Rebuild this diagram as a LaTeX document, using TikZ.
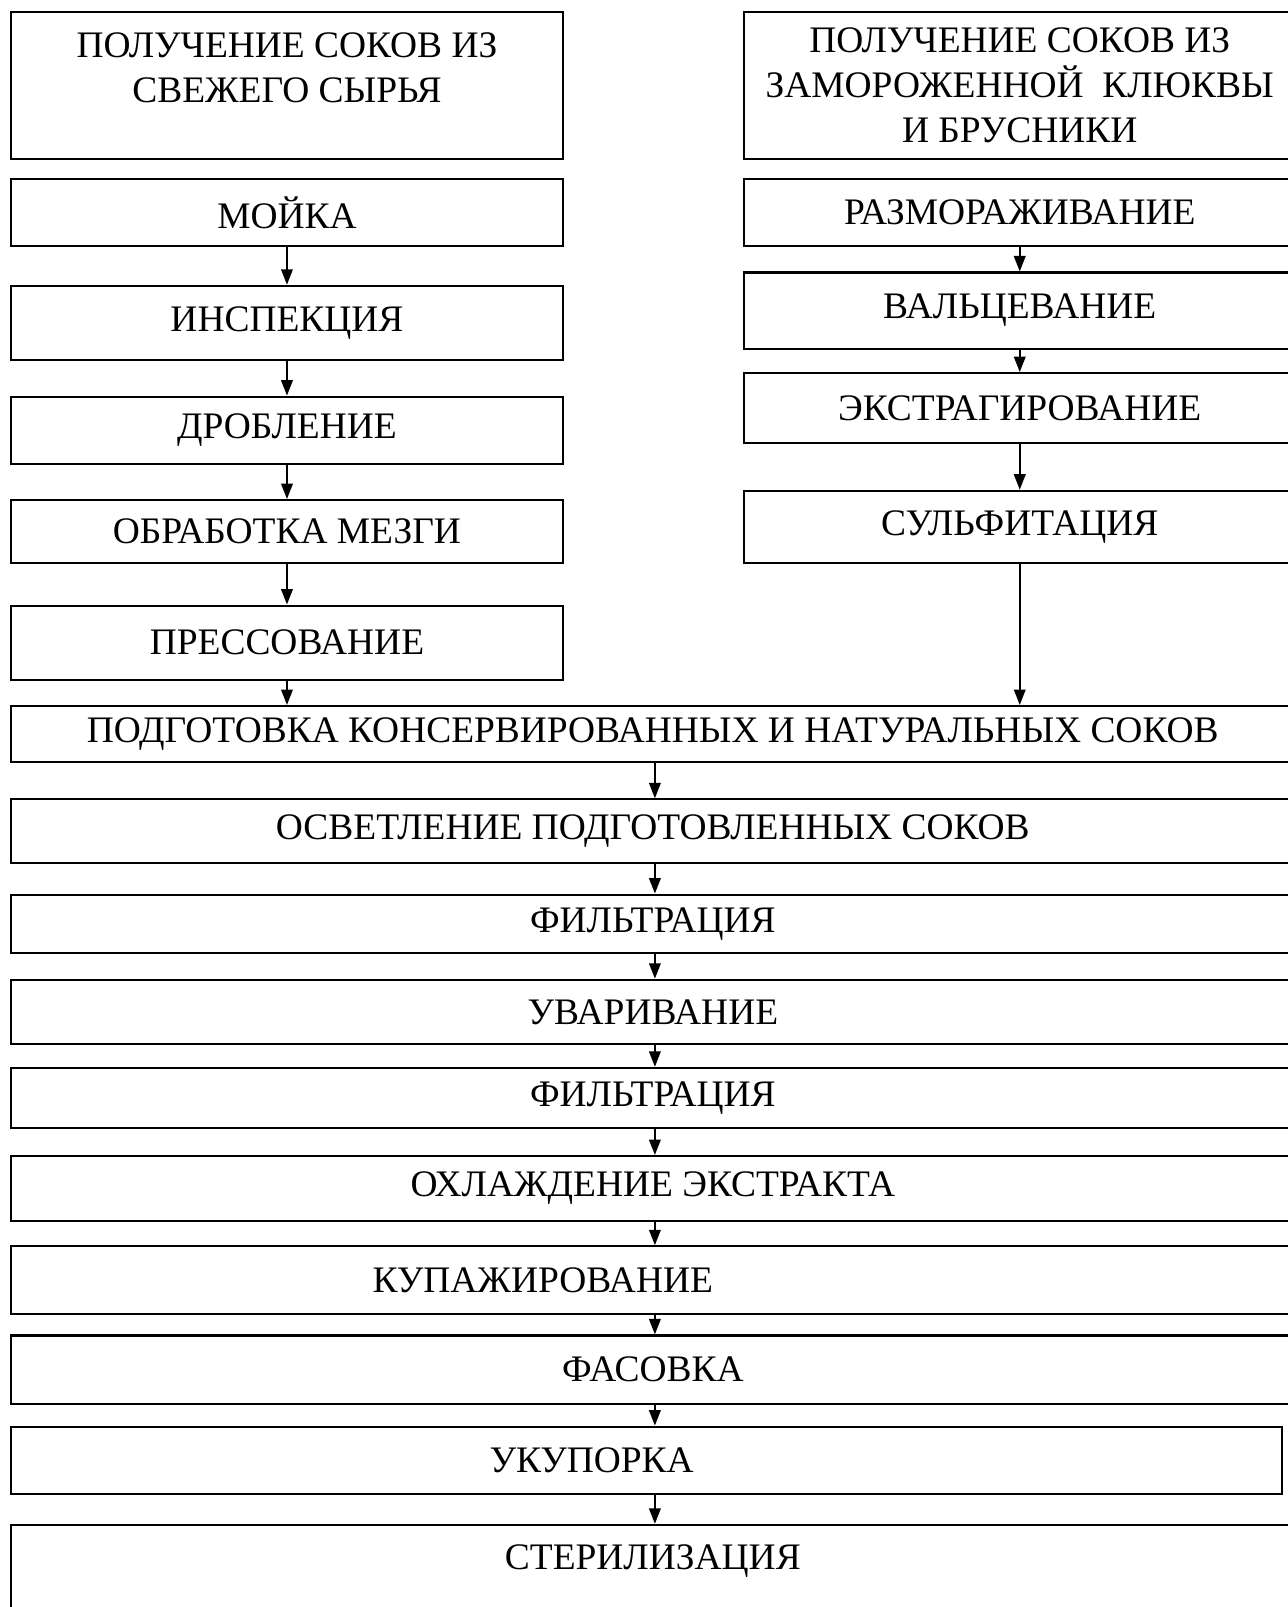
\documentclass[tikz,border=0pt]{standalone}
\usepackage{fontspec}
\setmainfont{Liberation Serif}
\usetikzlibrary{arrows.meta,positioning}
\tikzset{
  flowbox/.style={draw, line width=1.2pt, rectangle, inner sep=0pt,
    font=\fontsize{21.3}{25.6}\selectfont},
  leftbox/.style={flowbox, minimum width=11.03cm},
  rightbox/.style={flowbox, minimum width=11.03cm},
  widebox/.style={flowbox, minimum width=25.65cm},
  arr/.style={-{Triangle[length=3.1mm,width=2.3mm]}, line width=1.2pt}
}
\begin{document}
\begin{tikzpicture}[x=0.0205cm,y=-0.0205cm]
  \useasboundingbox (0,0) rectangle (1256,1568);
  % left column
  \node[leftbox, minimum height=2.93cm, align=center, text depth=0.7cm] (fresh) at (280,83.5)
    {ПОЛУЧЕНИЕ СОКОВ ИЗ\\СВЕЖЕГО СЫРЬЯ};
  \node[leftbox, minimum height=1.33cm] (wash) at (280,207.5) {МОЙКА};
  \node[leftbox, minimum height=1.48cm] (insp) at (280,315) {ИНСПЕКЦИЯ};
  \node[leftbox, minimum height=1.35cm] (crush) at (280,420) {ДРОБЛЕНИЕ};
  \node[leftbox, minimum height=1.25cm] (pulp) at (280,518.5) {ОБРАБОТКА МЕЗГИ};
  \node[leftbox, minimum height=1.48cm] (press) at (280,627) {ПРЕССОВАНИЕ};
  % right column
  \node[rightbox, minimum height=2.93cm, align=center] (frozen) at (995,83.5)
    {ПОЛУЧЕНИЕ СОКОВ ИЗ\\ЗАМОРОЖЕННОЙ~~КЛЮКВЫ\\И БРУСНИКИ};
  \node[rightbox, minimum height=1.33cm] (thaw) at (995,207.5) {РАЗМОРАЖИВАНИЕ};
  \node[rightbox, minimum height=1.52cm] (roll) at (995,303) {ВАЛЬЦЕВАНИЕ};
  \node[rightbox, minimum height=1.39cm] (extr) at (995,398) {ЭКСТРАГИРОВАНИЕ};
  \node[rightbox, minimum height=1.44cm] (sulf) at (995,514) {СУЛЬФИТАЦИЯ};
  % common chain
  \node[widebox, minimum height=1.11cm] (prep) at (637,716)
    {ПОДГОТОВКА КОНСЕРВИРОВАННЫХ И НАТУРАЛЬНЫХ СОКОВ};
  \node[widebox, minimum height=1.27cm] (clar) at (637,811)
    {ОСВЕТЛЕНИЕ ПОДГОТОВЛЕННЫХ СОКОВ};
  \node[widebox, minimum height=1.17cm] (filt) at (637,901.5) {ФИЛЬТРАЦИЯ};
  \node[widebox, minimum height=1.29cm] (boil) at (637,987.5) {УВАРИВАНИЕ};
  \node[widebox, minimum height=1.21cm] (filtb) at (637,1071.5) {ФИЛЬТРАЦИЯ};
  \node[widebox, minimum height=1.29cm] (cool) at (637,1159.5) {ОХЛАЖДЕНИЕ ЭКСТРАКТА};
  \node[widebox, minimum height=1.35cm] (blend) at (637,1249)
    {КУПАЖИРОВАНИЕ\hspace*{4.4cm}};
  \node[widebox, minimum height=1.37cm] (fill) at (637,1336.5) {ФАСОВКА};
  \node[flowbox, minimum width=25.42cm, minimum height=1.35cm] (cap) at (631,1425)
    {УКУПОРКА\hspace*{2.2cm}};
  \node[widebox, minimum height=2.3cm, text depth=1.0cm] (steril) at (637,1544) {СТЕРИЛИЗАЦИЯ};
  \coordinate (spine) at (639,0);
  % arrows
  \draw[arr] (wash) -- (insp);
  \draw[arr] (insp) -- (crush);
  \draw[arr] (crush) -- (pulp);
  \draw[arr] (pulp) -- (press);
  \draw[arr] (press.south) -- (press.south |- prep.north);
  \draw[arr] (thaw) -- (roll);
  \draw[arr] (roll) -- (extr);
  \draw[arr] (extr) -- (sulf);
  \draw[arr] (sulf.south) -- (sulf.south |- prep.north);
  \foreach \a/\b in {prep/clar,clar/filt,filt/boil,boil/filtb,filtb/cool,cool/blend,blend/fill,fill/cap,cap/steril}
    \draw[arr] (\a.south -| spine) -- (\b.north -| spine);
\end{tikzpicture}
\end{document}
